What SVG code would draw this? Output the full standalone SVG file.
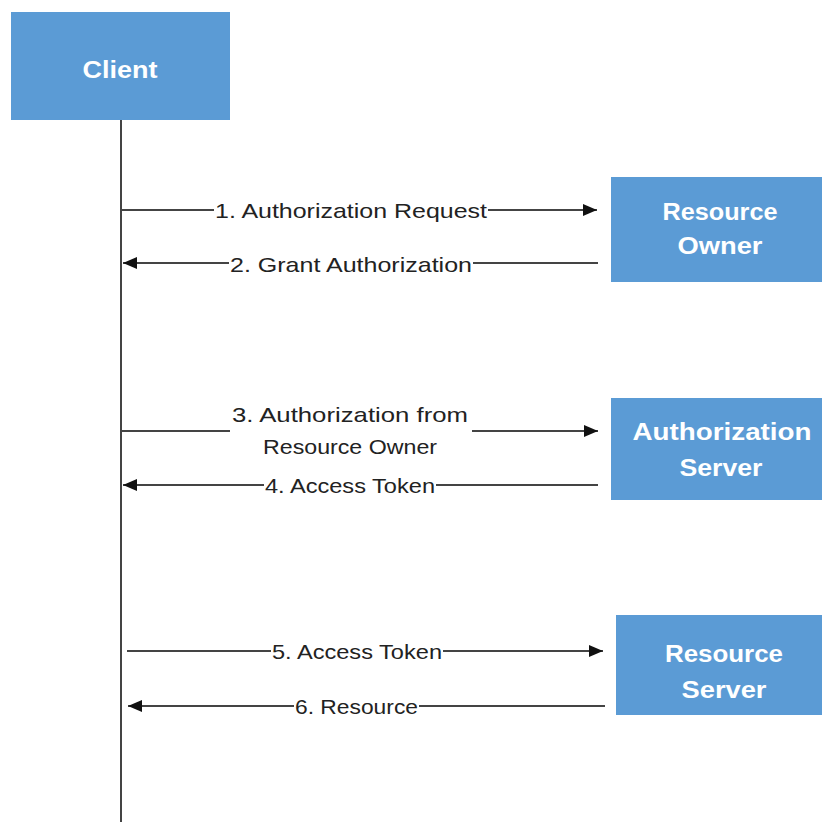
<svg xmlns="http://www.w3.org/2000/svg" width="822" height="824" viewBox="0 0 822 824">
<style>
.box{fill:#5B9BD5}
.nt{font-family:"Liberation Sans",Arial,sans-serif;font-weight:bold;font-size:23px;fill:#fff;text-anchor:middle}
.lt{font-family:"Liberation Sans",Arial,sans-serif;font-size:21px;fill:#222}
.ln{stroke:#444;stroke-width:2;fill:none}
</style>
<defs>
<marker id="ah" viewBox="0 0 14 12" refX="14" refY="6" markerWidth="14" markerHeight="12" markerUnits="userSpaceOnUse" orient="auto">
<path d="M0,0 L14,6 L0,12 z" fill="#111"/>
</marker>
</defs>
<rect width="822" height="824" fill="#fff"/>
<g id="client">
<rect class="box" x="11" y="12" width="219" height="108"/>
<text class="nt" x="120" y="78" textLength="75" lengthAdjust="spacingAndGlyphs">Client</text>
</g>
<g id="resource-owner">
<rect class="box" x="611" y="177" width="211" height="105"/>
<text class="nt" x="720" y="220" textLength="115" lengthAdjust="spacingAndGlyphs">Resource</text>
<text class="nt" x="720" y="254" textLength="85" lengthAdjust="spacingAndGlyphs">Owner</text>
</g>
<g id="authorization-server">
<rect class="box" x="611" y="398" width="211" height="102"/>
<text class="nt" x="722" y="440" textLength="179" lengthAdjust="spacingAndGlyphs">Authorization</text>
<text class="nt" x="721" y="476" textLength="83" lengthAdjust="spacingAndGlyphs">Server</text>
</g>
<g id="resource-server">
<rect class="box" x="616" y="615" width="206" height="100"/>
<text class="nt" x="724" y="662" textLength="118" lengthAdjust="spacingAndGlyphs">Resource</text>
<text class="nt" x="724" y="698" textLength="85" lengthAdjust="spacingAndGlyphs">Server</text>
</g>
<g id="connectors">
<line class="ln" x1="121" y1="120" x2="121" y2="822"/>
<line class="ln" x1="121" y1="210" x2="214" y2="210"/>
<line class="ln" x1="488" y1="210" x2="597" y2="210" marker-end="url(#ah)"/>
<line class="ln" x1="598" y1="263" x2="473" y2="263"/>
<line class="ln" x1="229" y1="263" x2="123" y2="263" marker-end="url(#ah)"/>
<line class="ln" x1="121" y1="431" x2="230" y2="431"/>
<line class="ln" x1="472" y1="431" x2="598" y2="431" marker-end="url(#ah)"/>
<line class="ln" x1="598" y1="485" x2="436" y2="485"/>
<line class="ln" x1="264" y1="485" x2="123" y2="485" marker-end="url(#ah)"/>
<line class="ln" x1="127" y1="651" x2="271" y2="651"/>
<line class="ln" x1="443" y1="651" x2="603" y2="651" marker-end="url(#ah)"/>
<line class="ln" x1="605" y1="706" x2="419" y2="706"/>
<line class="ln" x1="294" y1="706" x2="128" y2="706" marker-end="url(#ah)"/>
</g>
<g id="labels">
<text class="lt" x="215" y="218" textLength="272" lengthAdjust="spacingAndGlyphs">1. Authorization  Request</text>
<text class="lt" x="230" y="272" textLength="242" lengthAdjust="spacingAndGlyphs">2. Grant Authorization</text>
<text class="lt" x="232" y="422" textLength="236" lengthAdjust="spacingAndGlyphs">3. Authorization  from</text>
<text class="lt" x="263" y="454" textLength="174" lengthAdjust="spacingAndGlyphs">Resource Owner</text>
<text class="lt" x="265" y="493" textLength="170" lengthAdjust="spacingAndGlyphs">4. Access Token</text>
<text class="lt" x="272" y="659" textLength="170" lengthAdjust="spacingAndGlyphs">5. Access Token</text>
<text class="lt" x="295" y="714" textLength="123" lengthAdjust="spacingAndGlyphs">6. Resource</text>
</g>
</svg>
